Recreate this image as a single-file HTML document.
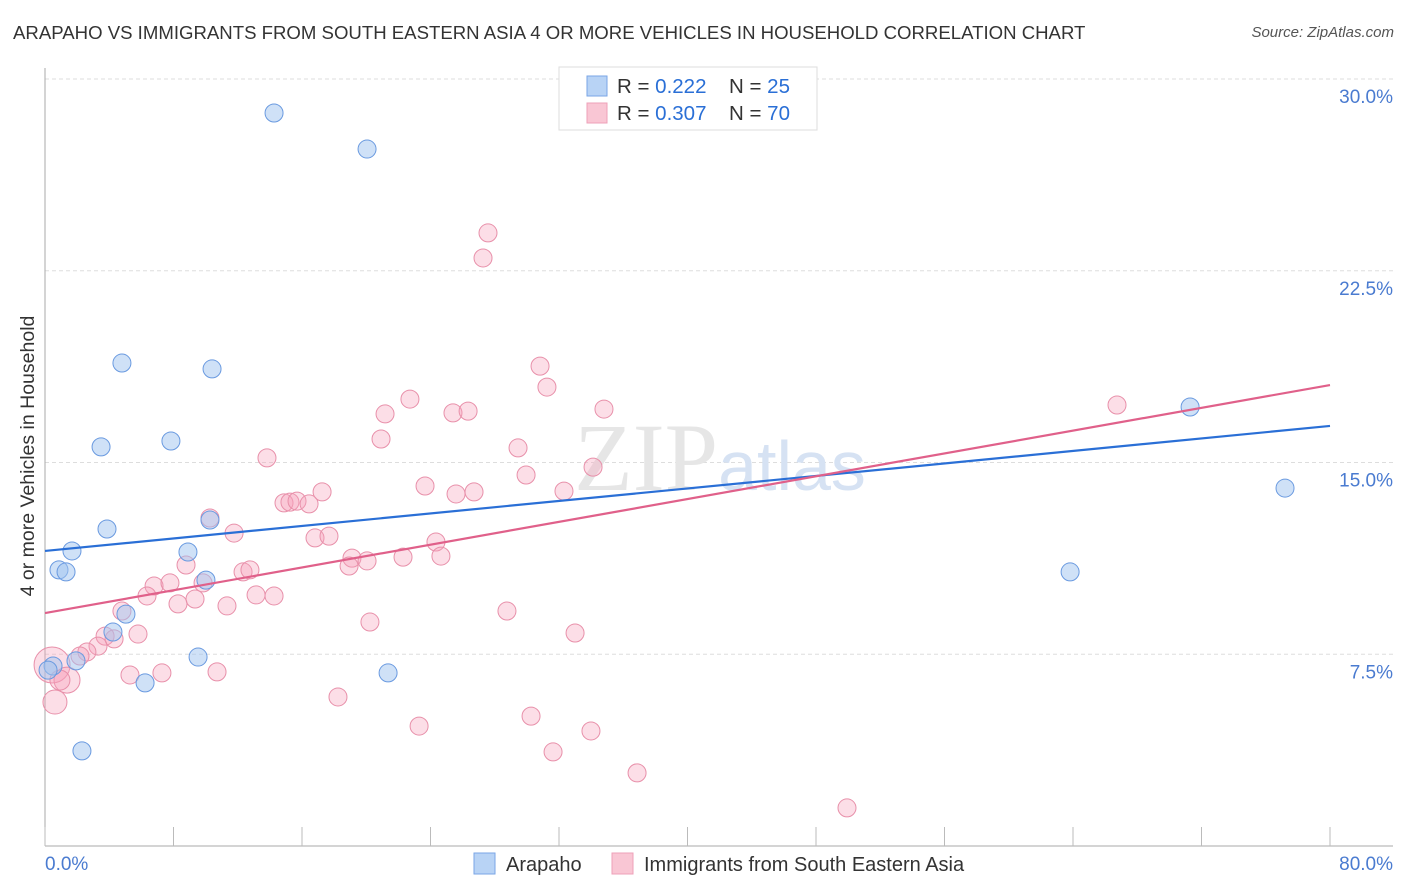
<!DOCTYPE html>
<html><head><meta charset="utf-8">
<style>
body{margin:0;background:#fff;font-family:"Liberation Sans",sans-serif;}
#wrap{position:relative;width:1406px;height:892px;overflow:hidden;}
.title{position:absolute;left:13px;top:22px;font-size:18.6px;color:#333;}
.source{position:absolute;right:12px;top:24px;font-size:15px;color:#555;font-style:italic;}
</style></head><body>
<div id="wrap">
<div class="title">ARAPAHO VS IMMIGRANTS FROM SOUTH EASTERN ASIA 4 OR MORE VEHICLES IN HOUSEHOLD CORRELATION CHART</div>
<div class="source">Source: ZipAtlas.com</div>
<svg id="svg" width="1406" height="892" style="position:absolute;left:0;top:0"></svg>
</div>
<script>
const blueX=[14.26,20.05,4.79,10.40,3.49,7.84,3.86,1.68,0.87,1.31,8.90,10.27,10.02,5.04,4.23,9.53,1.93,0.50,0.19,6.23,21.36,2.30,71.29,77.20,63.82];
const blueY=[28.67,27.26,18.89,18.66,15.61,15.84,12.40,11.54,10.80,10.72,11.50,12.75,10.40,9.07,8.37,7.39,7.24,7.04,6.88,6.38,6.77,3.72,17.17,14.00,10.72];
const pinkX=[27.58,27.27,30.82,31.25,22.72,21.17,25.40,26.34,34.80,20.92,29.45,13.82,34.12,29.95,23.66,25.59,26.71,17.25,32.31,14.88,15.25,15.69,16.44,10.27,11.77,16.81,17.68,24.34,19.11,20.05,24.65,22.29,18.93,8.78,12.33,12.76,6.79,7.78,9.84,6.35,9.34,8.28,11.33,13.14,14.26,28.76,20.23,4.79,5.79,3.74,4.30,3.30,2.61,2.18,0.44,1.37,5.29,7.28,10.71,0.62,18.24,33.00,23.29,30.26,31.63,33.99,36.86,49.93,66.74,0.93];
const pinkY=[23.98,23.00,18.77,17.95,17.48,16.90,16.94,17.01,17.09,15.92,15.57,15.18,14.82,14.51,14.08,13.77,13.85,13.85,13.88,13.42,13.45,13.49,13.38,12.83,12.24,12.05,12.12,11.89,11.26,11.15,11.34,11.30,10.95,10.99,10.72,10.80,10.17,10.29,10.29,9.78,9.66,9.47,9.39,9.82,9.78,9.19,8.76,9.19,8.29,8.21,8.10,7.82,7.59,7.43,7.08,6.49,6.69,6.77,6.81,5.63,5.83,8.33,4.69,5.08,3.68,4.50,2.86,1.49,17.25,6.49];
const pinkR=[9,9,9,9,9,9,9,9,9,9,9,9,9,9,9,9,9,9,9,9,9,9,9,9,9,9,9,9,9,9,9,9,9,9,9,9,9,9,9,9,9,9,9,9,9,9,9,9,9,9,9,9,9,9,18,13,9,9,9,12,9,9,9,9,9,9,9,9,9,10];
const blueTrend=[11.54,16.43];
const pinkTrend=[9.11,18.03];
const yTicks=[7.5,15.0,22.5,30.0];
const xTickVals=[0,8,16,24,32,40,48,56,64,72,80];

const X0=45,X1=1330,Y0=846,Y30=79;
const sx=v=>X0+(v/80)*(X1-X0);
const sy=v=>Y0-(v/30)*(Y0-Y30);
const svg=document.getElementById('svg');
const NS='http://www.w3.org/2000/svg';
function mk(t,a){const e=document.createElementNS(NS,t);for(const k in a)e.setAttribute(k,a[k]);svg.appendChild(e);return e;}

yTicks.forEach(v=>{
  const g=mk('line',{x1:X0,x2:1393,y1:sy(v),y2:sy(v),stroke:'#ddd','stroke-dasharray':'4,3'});
  
  
  const t=mk('text',{x:1393,y:sy(v)+24,'text-anchor':'end','font-size':19,fill:'#4a7bd0','font-family':'Liberation Sans'});
  t.textContent=v.toFixed(1)+'%';
  
  
});
const ax=mk('line',{x1:X0,x2:X0,y1:68,y2:Y0,stroke:'#aaa'});


const bx=mk('line',{x1:X0,x2:1393,y1:Y0,y2:Y0,stroke:'#aaa'});


xTickVals.forEach(v=>{
  const l=mk('line',{x1:sx(v),x2:sx(v),y1:827,y2:Y0,stroke:'#bbb'});
  
  
});
[['0.0%',45,'start'],['80.0%',1393,'end']].forEach(a=>{
  const t=mk('text',{x:a[1],y:870,'text-anchor':a[2],'font-size':19,fill:'#4a7bd0','font-family':'Liberation Sans'});
  t.textContent=a[0];
  
  
});
const yt=mk('text',{x:34,y:456,transform:'rotate(-90 34 456)','text-anchor':'middle','font-size':19.5,fill:'#333','font-family':'Liberation Sans'});
yt.textContent='4 or more Vehicles in Household';


const wm=mk('text',{x:720,y:490,'text-anchor':'middle','font-size':96,fill:'#e6e6e6','font-family':'Liberation Serif'});
wm.innerHTML='ZIP<tspan fill="#d6e2f3" font-family="Liberation Sans" font-size="70">atlas</tspan>';



pinkX.forEach((x,i)=>{
  const c=mk('circle',{cx:sx(x),cy:sy(pinkY[i]),r:pinkR[i],fill:'rgba(245,160,185,0.35)',stroke:'#e890aa','stroke-width':1});
  
  
});
blueX.forEach((x,i)=>{
  const c=mk('circle',{cx:sx(x),cy:sy(blueY[i]),r:9,fill:'rgba(160,195,240,0.5)',stroke:'#6a9ae0','stroke-width':1});
  
  
});
const bl=mk('line',{x1:sx(0),x2:sx(80),y1:sy(blueTrend[0]),y2:sy(blueTrend[1]),stroke:'#2a6fd6','stroke-width':2.2});


const pl=mk('line',{x1:sx(0),x2:sx(80),y1:sy(pinkTrend[0]),y2:sy(pinkTrend[1]),stroke:'#e0608a','stroke-width':2.2});



const lb=mk('rect',{x:559,y:67,width:258,height:63,fill:'#fff',stroke:'#ddd'});


[[86,'#b8d3f5','#7aa6e6','0.222','25'],[113,'#f9c6d4','#eea0b8','0.307','70']].forEach(r=>{
  const s=mk('rect',{x:587,y:r[0]-10,width:20,height:20,fill:r[1],stroke:r[2]});
  
  
  const t=mk('text',{x:617,y:r[0]+7,'font-size':20.5,fill:'#333','font-family':'Liberation Sans'});
  t.innerHTML='R = <tspan fill="#2a6fd6">'+r[3]+'</tspan><tspan x="729">N = </tspan><tspan fill="#2a6fd6">'+r[4]+'</tspan>';
  
  
});
[[474,'#b8d3f5','#7aa6e6','Arapaho',506],[612,'#f9c6d4','#eea0b8','Immigrants from South Eastern Asia',644]].forEach(r=>{
  const s=mk('rect',{x:r[0],y:853,width:21,height:21,fill:r[1],stroke:r[2]});
  
  
  const t=mk('text',{x:r[4],y:871,'font-size':20,fill:'#333','font-family':'Liberation Sans'});
  t.textContent=r[3];
  
  
});
</script>
</body></html>
